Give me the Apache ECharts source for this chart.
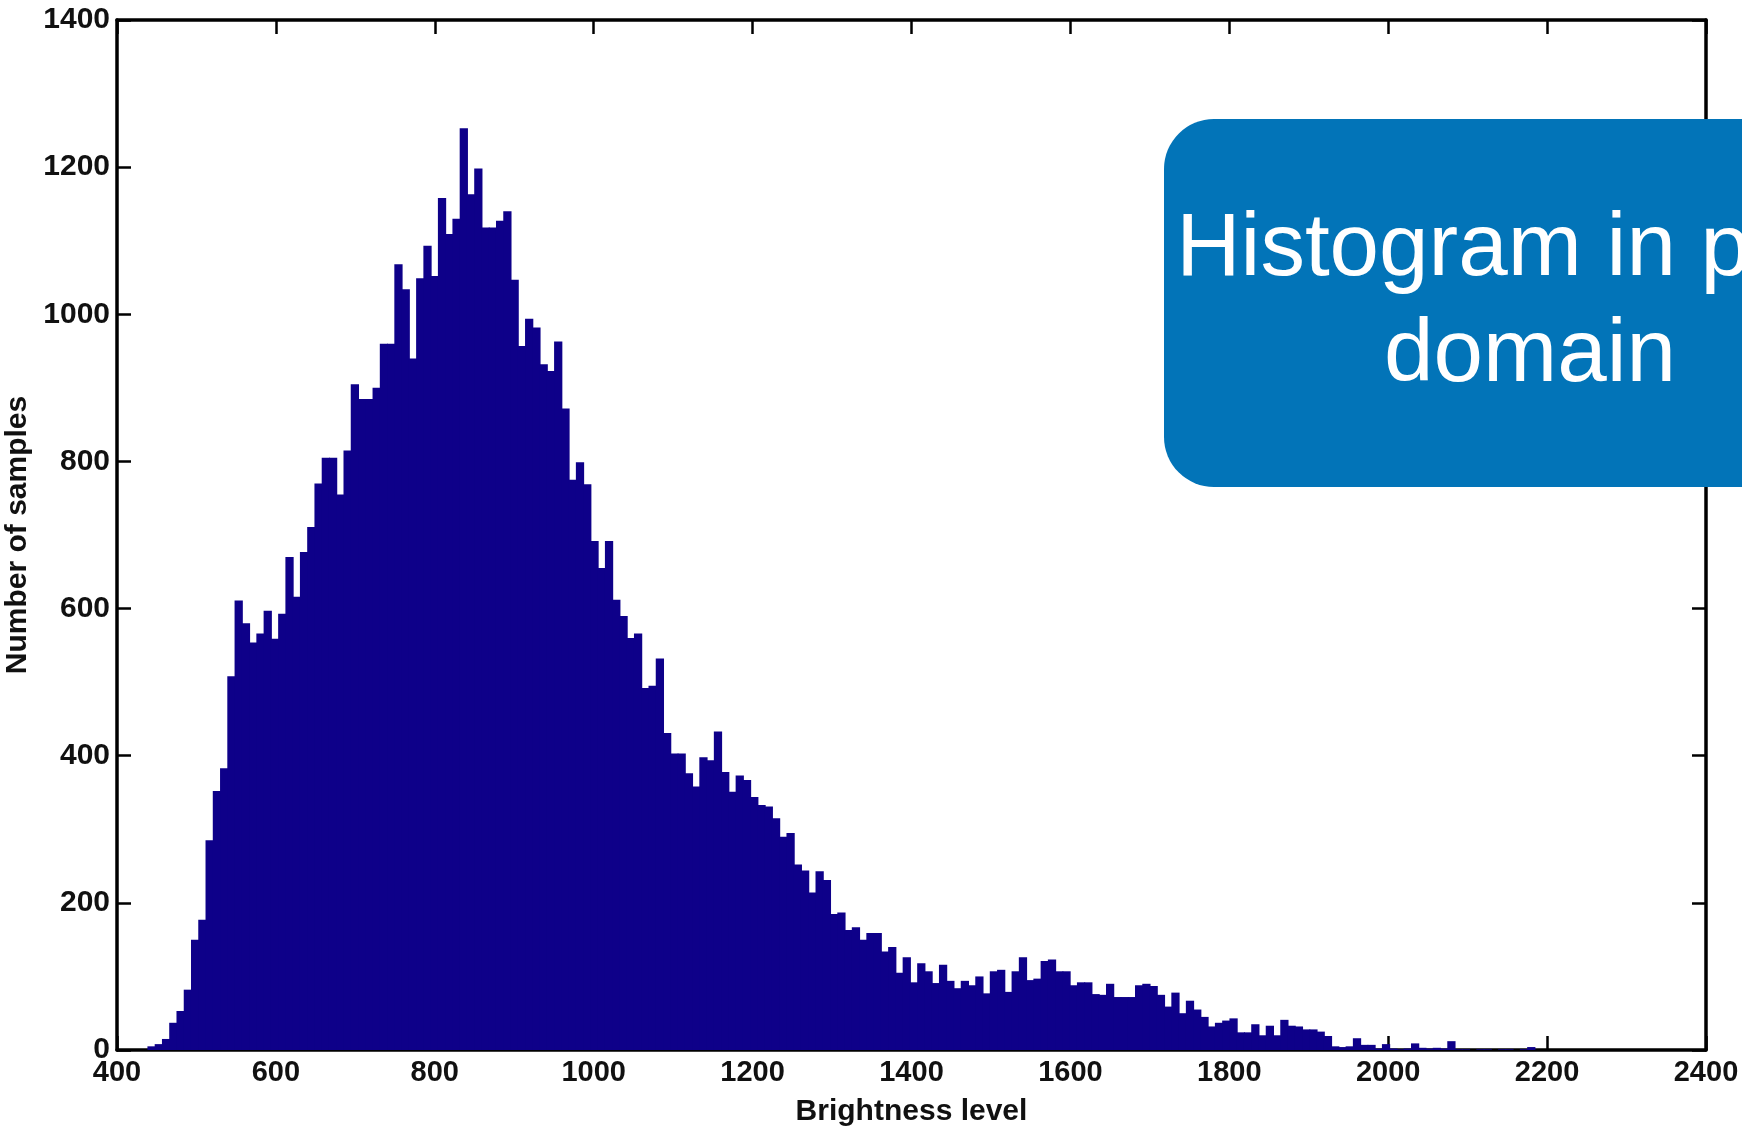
<!DOCTYPE html>
<html>
<head>
<meta charset="utf-8">
<title>Brightness histogram</title>
<script src="https://cdn.jsdelivr.net/npm/echarts@6/dist/echarts.min.js"></script>
<style>
  html, body { margin: 0; padding: 0; background: #ffffff; }
  #chart { width: 1742px; height: 1131px; }
</style>
</head>
<body>
<div id="chart"></div>
<script>
// Histogram bins: uniform width, counted from the lowest brightness sample.
const binStart = 438.3;
const binWidth = 9.14;

// Number of samples in each brightness bin, left to right.
const counts = [
  5, 8, 15, 37, 53, 82, 150, 177, 285, 352,
  383, 508, 611, 580, 554, 566, 597, 559, 593, 670,
  616, 677, 711, 770, 805, 805, 755, 815, 905, 885,
  885, 900, 960, 960, 1068, 1034, 940, 1049, 1093, 1052,
  1158, 1109, 1130, 1253, 1163, 1198, 1118, 1118, 1127, 1140,
  1047, 957, 994, 982, 932, 923, 963, 872, 775, 799,
  769, 692, 655, 692, 612, 590, 560, 566, 492, 495,
  532, 431, 403, 403, 376, 358, 398, 394, 433, 378,
  351, 373, 367, 344, 333, 331, 315, 290, 295, 252,
  244, 214, 243, 231, 185, 187, 163, 167, 150, 159,
  159, 134, 140, 105, 126, 92, 118, 107, 91, 116,
  94, 84, 94, 88, 100, 77, 107, 109, 79, 107,
  126, 95, 97, 121, 123, 107, 107, 88, 92, 92,
  76, 75, 90, 72, 72, 72, 88, 90, 87, 75,
  59, 78, 50, 67, 55, 45, 32, 37, 40, 43,
  24, 24, 35, 20, 33, 20, 41, 33, 32, 28,
  28, 25, 19, 5, 4, 5, 16, 7, 7, 2,
  8, 2, 1, 2, 9, 3, 2, 3, 2, 12,
  1, 1, 0, 1, 1, 0, 1, 1, 0, 1,
  4
];

// Axis ranges and tick labels.
const xTicks = [400, 600, 800, 1000, 1200, 1400, 1600, 1800, 2000, 2200, 2400];
const yTicks = [0, 200, 400, 600, 800, 1000, 1200, 1400];

const xLabel = 'Brightness level';
const yLabel = 'Number of samples';
const calloutText = 'Histogram in pixel\ndomain';

// [left edge, right edge, count] for every bin
const bins = counts.map((c, i) => [binStart + i * binWidth, binStart + (i + 1) * binWidth, c]);

const barColor = '#0e0089';
const axisColor = '#000000';
const font = 'Liberation Sans, Arial, Helvetica, sans-serif';

const chart = echarts.init(document.getElementById('chart'), null, { renderer: 'canvas' });

const frameAxis = {
  axisLine: { show: true, onZero: false, lineStyle: { color: axisColor, width: 3.5 } },
  axisTick: { show: true, inside: true, length: 14, lineStyle: { color: axisColor, width: 2.5 } },
  splitLine: { show: false }
};

const plainNumber = v => String(v);

chart.setOption({
  animation: false,
  backgroundColor: '#ffffff',
  grid: { left: 117, right: 36, top: 20, bottom: 81, containLabel: false, outerBoundsMode: 'none' },
  xAxis: [
    Object.assign({
      type: 'value',
      position: 'bottom',
      min: xTicks[0],
      max: xTicks[xTicks.length - 1],
      interval: xTicks[1] - xTicks[0],
      name: xLabel,
      nameLocation: 'middle',
      nameGap: 47,
      nameTextStyle: { fontFamily: font, fontSize: 30, fontWeight: 'bold', color: '#111' },
      axisLabel: { fontFamily: font, fontSize: 29, fontWeight: 'bold', color: '#111', margin: 8, formatter: plainNumber }
    }, frameAxis),
    Object.assign({
      type: 'value',
      position: 'top',
      min: xTicks[0],
      max: xTicks[xTicks.length - 1],
      interval: xTicks[1] - xTicks[0],
      axisLabel: { show: false }
    }, frameAxis)
  ],
  yAxis: [
    Object.assign({
      type: 'value',
      position: 'left',
      min: yTicks[0],
      max: yTicks[yTicks.length - 1],
      interval: yTicks[1] - yTicks[0],
      name: yLabel,
      nameLocation: 'middle',
      nameGap: 83,
      nameTextStyle: { fontFamily: font, fontSize: 30, fontWeight: 'bold', color: '#111' },
      axisLabel: { fontFamily: font, fontSize: 30, fontWeight: 'bold', color: '#111', margin: 7, formatter: plainNumber }
    }, frameAxis),
    Object.assign({
      type: 'value',
      position: 'right',
      min: yTicks[0],
      max: yTicks[yTicks.length - 1],
      interval: yTicks[1] - yTicks[0],
      axisLabel: { show: false }
    }, frameAxis)
  ],
  series: [{
    type: 'custom',
    xAxisIndex: 0,
    yAxisIndex: 0,
    data: bins,
    encode: { x: [0, 1], y: 2 },
    z: 1,
    renderItem: function (params, api) {
      const topLeft = api.coord([api.value(0), api.value(2)]);
      const bottomRight = api.coord([api.value(1), 0]);
      return {
        type: 'rect',
        shape: {
          x: topLeft[0],
          y: topLeft[1],
          width: bottomRight[0] - topLeft[0] + 1,
          height: bottomRight[1] - topLeft[1]
        },
        style: { fill: barColor }
      };
    }
  }],
  // Callout panel drawn over the plot frame
  graphic: [{
    type: 'rect',
    zlevel: 5,
    z: 100,
    shape: { x: 1164, y: 119, width: 732, height: 368, r: 50 },
    style: { fill: '#0274b8' }
  }, {
    type: 'text',
    zlevel: 5,
    z: 101,
    x: 1530,
    y: 303,
    style: {
      text: calloutText,
      fill: '#ffffff',
      font: '89px ' + font,
      lineHeight: 106,
      align: 'center',
      verticalAlign: 'middle'
    }
  }]
});
</script>
</body>
</html>
